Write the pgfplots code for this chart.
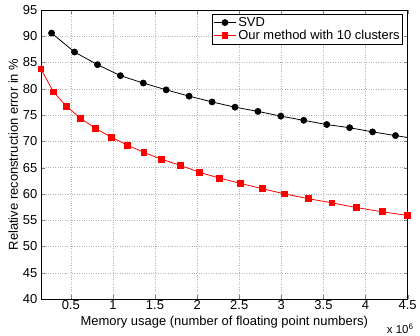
\documentclass[border=0pt]{standalone}
\usepackage{fontspec}
\setmainfont{Liberation Sans}
\usepackage{pgfplots}
\pgfplotsset{compat=1.18}
\begin{document}
\begin{tikzpicture}[x=1pt,y=1pt]
\begin{axis}[
  scale only axis,
  width=368pt, height=290pt,
  xmin=0.145, xmax=4.5,
  ymin=40, ymax=95,
  xtick={0.5,1,1.5,2,2.5,3,3.5,4,4.5},
  xticklabels={0.5,1,1.5,2,2.5,3,3.5,4,4.5},
  ytick={40,45,...,95},
  scaled x ticks=false,
  /pgf/number format/assume math mode=true,
  tick label style={font=\fontsize{13}{14}\selectfont},
  label style={font=\fontsize{13}{14}\selectfont},
  xticklabel style={anchor=north, yshift=2pt},
  xlabel={Memory usage (number of floating point numbers)},
  ylabel={Relative reconstruction error in \%},
  xlabel style={at={(axis description cs:0.5,0)}, anchor=base, yshift=-27pt},
  ylabel style={yshift=-2pt},
  tick align=inside,
  major tick length=4pt,
  grid=major,
  major grid style={gray!60, dotted, line width=0.5pt},
  axis line style={line width=0.6pt},
  legend style={at={(0.987,0.986)}, anchor=north east, draw=black, line width=0.6pt,
    font=\fontsize{13}{14}\selectfont, inner sep=1pt, row sep=-1.5pt},
  legend cell align=left,
  legend image code/.code={\draw[#1] (0pt,0pt) -- (22pt,0pt); \draw[#1, only marks] plot coordinates {(11pt,0pt)};},
  clip=true,
]
\addplot[black, line width=0.8pt, mark=*, mark size=3pt] coordinates {
(0.272,90.6) (0.544,87.0) (0.817,84.6) (1.089,82.5) (1.361,81.1) (1.633,79.8)
(1.905,78.6) (2.178,77.5) (2.450,76.5) (2.722,75.7) (2.994,74.8) (3.266,74.0)
(3.539,73.2) (3.811,72.6) (4.083,71.8) (4.355,71.1) (4.627,70.4)
};
\addlegendentry{SVD}
\addplot[red, line width=0.8pt, mark=square*, mark size=2.9pt] coordinates {
(0.145,83.8) (0.294,79.4) (0.448,76.7) (0.614,74.4) (0.791,72.5) (0.980,70.8)
(1.170,69.3) (1.367,67.9) (1.580,66.6) (1.805,65.4) (2.030,64.1) (2.267,63.0)
(2.515,62.0) (2.772,61.0) (3.040,60.0) (3.317,59.1) (3.601,58.3) (3.892,57.4)
(4.196,56.6) (4.500,55.9)
};
\addlegendentry{Our method with 10 clusters}
\end{axis}
\node[anchor=base west, inner sep=0pt, font=\fontsize{11.5}{13}\selectfont] at (347pt,-35pt) {x 10\textsuperscript{6}};
\path (-41pt,-37pt) rectangle (379pt,300pt);
\end{tikzpicture}
\end{document}
